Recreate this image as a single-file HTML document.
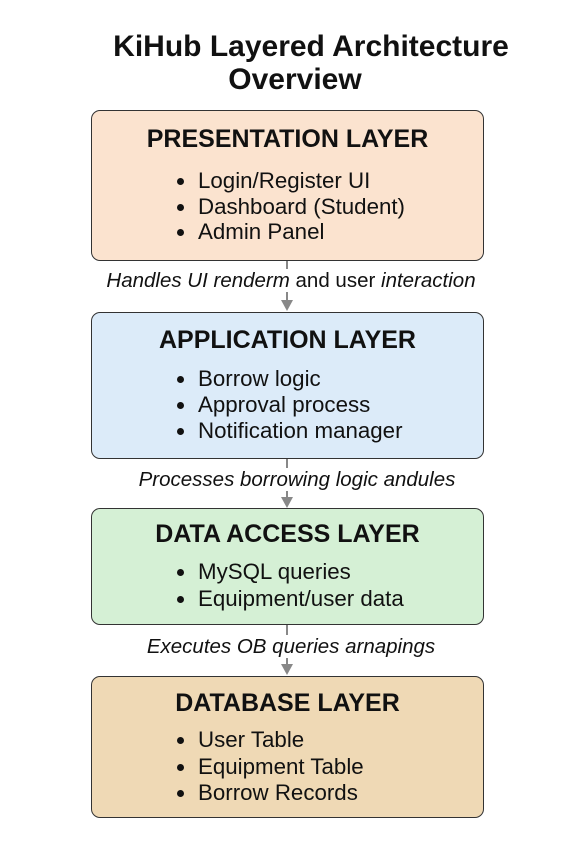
<!DOCTYPE html>
<html><head><meta charset="utf-8"><style>
body{margin:0;width:575px;height:863px;background:#fff;position:relative;font-family:"Liberation Sans",Arial,sans-serif;overflow:hidden}
.t{position:absolute;white-space:nowrap;color:#111}
.title{font-weight:bold;font-size:30px;left:0;width:622px;text-align:center}
.box{position:absolute;left:91px;width:393px;border:1.5px solid #333;border-radius:9px;box-sizing:border-box}
.h{font-weight:bold;font-size:25px;left:91px;width:393px;text-align:center}
.b{font-size:22.3px;left:198px}
.b:before{content:"";position:absolute;left:-21px;top:10px;width:7px;height:7px;border-radius:50%;background:#111}
.lab{font-style:italic;font-size:20.5px;left:0;width:582px;text-align:center}
.ln{position:absolute;left:286px;width:1.5px;background:#888}
.ar{position:absolute;left:281px;width:0;height:0;border-left:6px solid transparent;border-right:6px solid transparent;border-top:11px solid #888}
</style></head><body>
<div class="t title" style="top:30px">KiHub Layered Architecture</div>
<div class="t title" style="top:63px;width:590px">Overview</div>

<div class="box" style="top:110px;height:151px;background:#fbe3cf"></div>
<div class="t h" style="top:125px">PRESENTATION LAYER</div>
<div class="t b" style="top:168px">Login/Register UI</div>
<div class="t b" style="top:194px">Dashboard (Student)</div>
<div class="t b" style="top:219px">Admin Panel</div>

<div class="ln" style="top:261px;height:40px"></div>
<div class="t lab" style="top:269px"><span style="background:#fff">Handles UI renderm <span style="font-style:normal">and user</span> interaction</span></div>
<div class="ar" style="top:300px"></div>

<div class="box" style="top:312px;height:147px;background:#dcebf9"></div>
<div class="t h" style="top:326px">APPLICATION LAYER</div>
<div class="t b" style="top:366px">Borrow logic</div>
<div class="t b" style="top:392px">Approval process</div>
<div class="t b" style="top:418px">Notification manager</div>

<div class="ln" style="top:459px;height:40px"></div>
<div class="t lab" style="top:468px;left:6px"><span style="background:#fff">Processes borrowing logic andules</span></div>
<div class="ar" style="top:497px"></div>

<div class="box" style="top:508px;height:117px;background:#d5f0d5"></div>
<div class="t h" style="top:520px">DATA ACCESS LAYER</div>
<div class="t b" style="top:559px">MySQL queries</div>
<div class="t b" style="top:586px">Equipment/user data</div>

<div class="ln" style="top:625px;height:40px"></div>
<div class="t lab" style="top:635px"><span style="background:#fff">Executes OB queries arnapings</span></div>
<div class="ar" style="top:664px"></div>

<div class="box" style="top:676px;height:142px;background:#efd9b5"></div>
<div class="t h" style="top:689px">DATABASE LAYER</div>
<div class="t b" style="top:727px">User Table</div>
<div class="t b" style="top:754px">Equipment Table</div>
<div class="t b" style="top:780px">Borrow Records</div>
</body></html>
